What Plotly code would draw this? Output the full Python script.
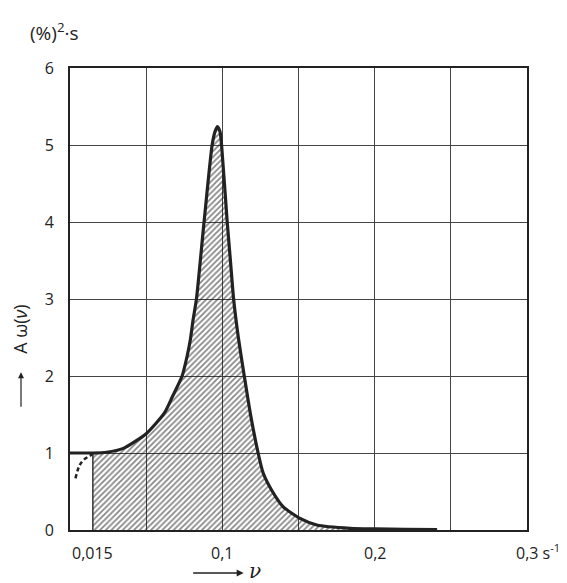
import plotly.graph_objects as go

# Curve values (nu in 1/s, A_omega in (%)^2*s)
nu = [0.0, 0.008, 0.015, 0.024, 0.035, 0.05, 0.062, 0.0672, 0.0736, 0.0768,
      0.079, 0.0808, 0.083, 0.088, 0.0933, 0.0953, 0.0968, 0.0985, 0.0995,
      0.1032, 0.1053, 0.1074, 0.1105, 0.1144, 0.1185, 0.1236,
      0.1268, 0.1323, 0.14, 0.151, 0.162, 0.184, 0.2, 0.22, 0.241]
amp = [1.0, 1.0, 1.0, 1.01, 1.06, 1.25, 1.52, 1.73, 2.0, 2.25,
       2.47, 2.73, 3.0, 4.0, 5.0, 5.18, 5.24, 5.17, 5.0,
       4.0, 3.5, 3.0, 2.5, 2.0, 1.5, 0.99,
       0.74, 0.52, 0.30, 0.15, 0.065, 0.022, 0.014, 0.008, 0.004]

# dashed low-frequency continuation
nu_dash = [0.0036, 0.0063, 0.0095, 0.0128, 0.015]
amp_dash = [0.67, 0.84, 0.92, 0.96, 0.99]

hatch_start = 0.015
y_ticks = [0, 1, 2, 3, 4, 5, 6]
x_labels = [(0.015, "0,015"), (0.1, "0,1"), (0.2, "0,2")]

FONT = "Open Sans"
INK = "#222222"

fig = go.Figure()

# hatched area from 0.015 onward
hx = [x for x in nu if x >= hatch_start]
hy = [y for x, y in zip(nu, amp) if x >= hatch_start]
fig.add_trace(go.Scatter(
    x=hx, y=hy, mode="lines", fill="tozeroy",
    line=dict(color="rgba(0,0,0,0)", width=0, shape="spline", smoothing=0.6),
    fillcolor="rgba(0,0,0,0)",
    fillpattern=dict(shape="/", size=4, solidity=0.45, fgcolor="#111111",
                     bgcolor="rgba(0,0,0,0)"),
    hoverinfo="skip", showlegend=False))

# left edge of hatched area
fig.add_trace(go.Scatter(
    x=[hatch_start, hatch_start], y=[0, hy[0]], mode="lines",
    line=dict(color="#333333", width=1.5), hoverinfo="skip", showlegend=False))

fig.add_trace(go.Scatter(
    x=nu, y=amp, mode="lines",
    line=dict(color=INK, width=3.2, shape="spline", smoothing=0.6),
    showlegend=False))

fig.add_trace(go.Scatter(
    x=nu_dash, y=amp_dash, mode="lines",
    line=dict(color=INK, width=2.5, dash="4px,3px", shape="spline"),
    showlegend=False))

# page has an 8px body margin, so the figure is 8px smaller and shifted
fig.update_layout(
    width=559, height=575,
    margin=dict(l=62, r=40, t=60, b=53),
    paper_bgcolor="white", plot_bgcolor="white",
    font=dict(family=FONT, size=16, color=INK),
    xaxis=dict(range=[0, 0.3], dtick=0.05, showgrid=True, gridcolor="#444444",
               gridwidth=1.2, showticklabels=False, zeroline=False,
               showline=True, linecolor=INK, linewidth=2, mirror=True,
               fixedrange=True, automargin=False),
    yaxis=dict(range=[0, 6], tickvals=y_ticks, showgrid=True,
               gridcolor="#444444", gridwidth=1.2, zeroline=False,
               showline=True, linecolor=INK, linewidth=2, mirror=True,
               ticklabelstandoff=11, tickfont=dict(size=16, family=FONT),
               fixedrange=True, automargin=False),
)

for xv, lab in x_labels:
    fig.add_annotation(x=xv, y=0, xref="x", yref="paper", text=lab,
                       showarrow=False, yanchor="top", yshift=-10,
                       font=dict(size=16, family=FONT, color=INK))
fig.add_annotation(x=0.3, y=0, xref="x", yref="paper",
                   text="0,3 s<sup>-1</sup>", showarrow=False,
                   xanchor="left", yanchor="top", yshift=-8, xshift=-13,
                   font=dict(size=16, family=FONT, color=INK))

# unit label at top left
fig.add_annotation(x=0, y=1, xref="paper", yref="paper",
                   text="(%)<sup>2</sup>·s", showarrow=False,
                   xanchor="center", yanchor="bottom", xshift=-16, yshift=20,
                   font=dict(size=19, family=FONT, color=INK))

# y-axis title, rotated, with arrow
fig.add_annotation(x=0, y=2.6, xref="paper", yref="y",
                   text="A ω(<i>ν</i>)", textangle=-90, showarrow=False,
                   xanchor="center", yanchor="middle",
                   xshift=-50, font=dict(size=18, family=FONT, color=INK))
fig.add_annotation(x=0, y=2.05, xref="paper", yref="y", text="",
                   xanchor="center",
                   showarrow=True, arrowhead=2, arrowsize=1, arrowwidth=1.2,
                   arrowcolor=INK, ax=0, ay=36, xshift=-49)

# x-axis title with arrow
fig.add_annotation(x=0.114, y=0, xref="x", yref="paper", text="",
                   showarrow=True, arrowhead=2, arrowsize=1, arrowwidth=1.4,
                   arrowcolor=INK, ax=-52, ay=0, yshift=-43)
fig.add_annotation(x=0.116, y=0, xref="x", yref="paper", text="<i>ν</i>",
                   showarrow=False, xanchor="left", yanchor="middle", yshift=-41,
                   font=dict(size=20, family="DejaVu Serif", color=INK))

fig.write_html("out.html")
